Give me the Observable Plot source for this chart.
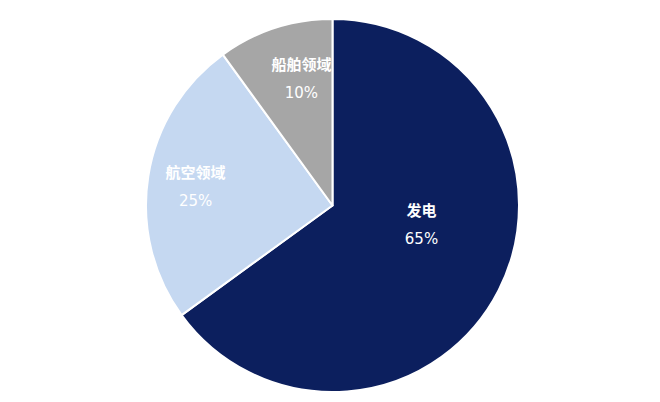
<!DOCTYPE html>
<html><head><meta charset="utf-8">
<script src="https://cdn.jsdelivr.net/npm/d3@7"></script>
<script src="https://cdn.jsdelivr.net/npm/@observablehq/plot@0.6"></script>
<style>
body{margin:0;background:#fff}
g[aria-label="pct"] text{letter-spacing:1.4px}
</style>
</head><body><div id="chart"></div>
<script>
// Data
const categories = ["发电", "航空领域", "船舶领域"];
const shares = [65, 25, 10];
const pctLabels = ["65%", "25%", "10%"];

// Styling
const colors = ["#0c1f5e", "#c5d8f1", "#a6a6a6"];
const labelRadius = [0.485, 0.744, 0.70];
const labelAngleShift = [-15, -1, 4];

const arcs = d3.pie().sort(null).value(d => d.value)(
  categories.map((c, i) => ({name: c, value: shares[i]}))
);
const rows = arcs.map((p, i) => {
  const a = (p.startAngle + p.endAngle) / 2 + labelAngleShift[i] * Math.PI / 180;
  const r = labelRadius[i];
  return {
    name: categories[i], pct: pctLabels[i],
    start: p.startAngle, end: p.endAngle, color: colors[i],
    lx: r * Math.sin(a), ly: r * Math.cos(a)
  };
});

function wedges(index, scales, values, dimensions) {
  let cx, cy, r;
  if (scales && typeof scales.x === "function") {
    cx = scales.x(0); cy = scales.y(0); r = scales.x(1) - scales.x(0);
  } else {
    const {width, height, marginLeft, marginRight, marginTop, marginBottom} = dimensions;
    cx = marginLeft + (width - marginLeft - marginRight) / 2;
    cy = marginTop + (height - marginTop - marginBottom) / 2;
    r = (width - marginLeft - marginRight) / 2;
  }
  const g = d3.create("svg:g").attr("transform", `translate(${cx},${cy})`);
  const arc = d3.arc().innerRadius(0).outerRadius(r);
  g.selectAll("path").data(rows).join("path")
    .attr("d", d => arc({startAngle: d.start, endAngle: d.end}))
    .attr("fill", d => d.color)
    .attr("stroke", "#fff")
    .attr("stroke-width", 2)
    .attr("stroke-linejoin", "round");
  return g.node();
}

const chart = Plot.plot({
  width: 660,
  height: 402,
  marginLeft: 146,
  marginRight: 141,
  marginTop: 19,
  marginBottom: 10,
  x: {domain: [-1, 1], axis: null},
  y: {domain: [-1, 1], axis: null},
  style: {background: "#fff"},
  marks: [
    wedges,
    Plot.text(rows, {
      x: "lx", y: "ly", text: "name", dy: -14,
      fill: "#fff", fontSize: 15, fontWeight: "bold",
      fontFamily: "'Noto Sans CJK SC', sans-serif", ariaLabel: "name"
    }),
    Plot.text(rows, {
      x: "lx", y: "ly", text: "pct", dy: 14,
      fill: "#fff", fontSize: 15,
      fontFamily: "'DejaVu Sans', Verdana, sans-serif", ariaLabel: "pct"
    })
  ]
});
document.getElementById("chart").appendChild(chart);
</script>
</body></html>
